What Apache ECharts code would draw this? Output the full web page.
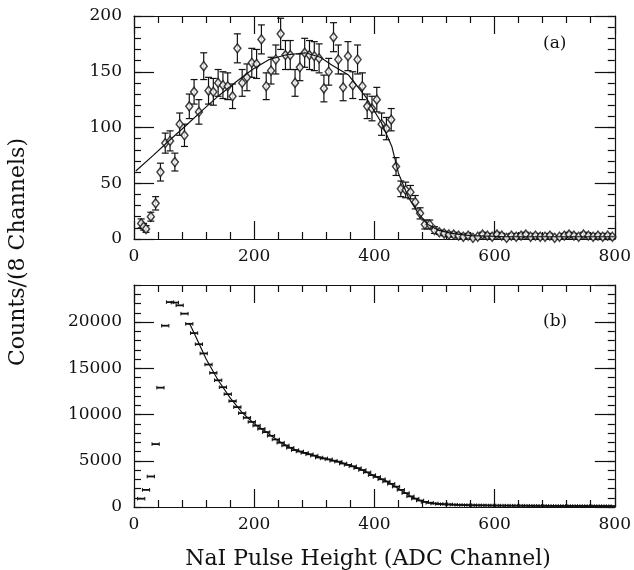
<!DOCTYPE html>
<html>
<head>
<meta charset="utf-8">
<script src="https://cdn.jsdelivr.net/npm/echarts@6/dist/echarts.min.js"></script>
<style>
  html, body { margin: 0; padding: 0; background: #fff; }
  #chart { width: 634px; height: 570px; }
</style>
</head>
<body>
<div id="chart"></div>
<script>
// panel (a): counts per 8 channels with error bars
const aX = [12, 16, 20, 28, 36, 44, 52, 60, 68, 76, 84, 92, 100, 108, 116, 124, 132, 140, 148, 156,
  164, 172, 180, 188, 196, 204, 212, 220, 228, 236, 244, 252, 260, 268, 276, 284, 292, 300, 308, 316,
  324, 332, 340, 348, 356, 364, 372, 380, 388, 396, 404, 412, 420, 428, 436, 444, 452, 460, 468, 476,
  484, 492, 500, 508, 516, 524, 532, 540, 548, 556, 564, 572, 580, 588, 596, 604, 612, 620, 628, 636,
  644, 652, 660, 668, 676, 684, 692, 700, 708, 716, 724, 732, 740, 748, 756, 764, 772, 780, 788, 796];
const aY = [14, 11, 9, 20, 32, 60, 86, 88, 69, 103, 93, 119, 132, 114, 155, 133, 132, 140, 138, 137,
  128, 171, 140, 145, 158, 157, 179, 137, 151, 161, 184, 165, 165, 140, 154, 167, 165, 164, 162, 135,
  150, 181, 161, 136, 164, 138, 161, 137, 119, 117, 125, 103, 99, 107, 65, 45, 44, 42, 33, 23,
  13, 13, 8, 6, 5, 4, 4, 3, 2, 3, 1, 2, 4, 3, 2, 4, 3, 1, 3, 2,
  3, 4, 2, 3, 2, 2, 3, 1, 2, 3, 4, 3, 2, 4, 3, 2, 3, 2, 3, 2];
const aErr = [4, 3, 3, 4, 6, 8, 9, 9, 8, 10, 10, 11, 11, 11, 12, 12, 12, 12, 12, 12,
  11, 13, 12, 12, 13, 13, 13, 12, 12, 13, 14, 13, 13, 12, 12, 13, 13, 13, 13, 12,
  12, 13, 13, 12, 13, 12, 13, 12, 11, 11, 11, 10, 10, 10, 8, 7, 7, 6, 6, 5,
  4, 4, 3, 2, 2, 2, 2, 2, 1, 2, 1, 1, 2, 2, 1, 2, 2, 1, 2, 1,
  2, 2, 1, 2, 1, 1, 2, 1, 1, 2, 2, 2, 1, 2, 2, 1, 2, 1, 2, 1];
const aFitX = [3, 32, 60, 87, 115, 142, 170, 197, 225, 252, 285, 310, 329, 357, 385, 412, 429, 440,
  456, 473, 489, 506, 528, 560, 620, 700, 800];
const aFitY = [61, 75, 89, 102, 116, 129, 141, 152, 161, 165, 167, 163, 156, 147, 128, 104, 83, 59,
  38, 23, 13, 8, 5, 3, 2, 2, 2];

// panel (b): counts per 8 channels, bin markers
const bX = [12, 20, 28, 36, 44, 52, 60, 68, 76, 84, 92, 100, 108, 116, 124, 132, 140, 148, 156, 164,
  172, 180, 188, 196, 204, 212, 220, 228, 236, 244, 252, 260, 268, 276, 284, 292, 300, 308, 316, 324,
  332, 340, 348, 356, 364, 372, 380, 388, 396, 404, 412, 420, 428, 436, 444, 452, 460, 468, 476, 484,
  492, 500, 508, 516, 524, 532, 540, 548, 556, 564, 572, 580, 588, 596, 604, 612, 620, 628, 636, 644,
  652, 660, 668, 676, 684, 692, 700, 708, 716, 724, 732, 740, 748, 756, 764, 772, 780, 788, 796];
const bY = [900, 1850, 3300, 6800, 12900, 19600, 22150, 22100, 21800, 20900, 19800, 18800, 17600, 16600,
  15400, 14500, 13700, 12950, 12200, 11450, 10800, 10150, 9650, 9200, 8800, 8450, 8100, 7700, 7300,
  6950, 6650, 6400, 6150, 6000, 5850, 5700, 5550, 5350, 5250, 5150, 5000, 4900, 4700, 4550, 4400,
  4200, 4000, 3750, 3450, 3250, 3000, 2750, 2500, 2200, 1850, 1500, 1150, 900, 700, 550, 450, 380,
  330, 300, 280, 250, 230, 210, 200, 190, 180, 175, 170, 160, 155, 150, 150, 145, 140, 140, 135,
  130, 130, 125, 125, 120, 120, 115, 115, 110, 110, 110, 105, 105, 100, 100, 100, 95, 95];
const bFitX = [92, 100, 120, 140, 160, 180, 200, 220, 240, 260, 280, 300, 320, 340, 360, 380, 400,
  420, 440, 460, 480, 500, 520, 560, 600, 700, 800];
const bFitY = [19900, 18800, 16000, 13700, 11800, 10200, 9000, 8100, 7150, 6400, 5900, 5550, 5200,
  4900, 4500, 4000, 3350, 2800, 2000, 1150, 600, 380, 290, 200, 160, 120, 100];

const INK = '#111';
const FONT = 'DejaVu Serif';

const chart = echarts.init(document.getElementById('chart'));

function vErrorBar(params, api) {
  const x = api.value(0), y = api.value(1), e = api.value(2);
  const hi = api.coord([x, y + e]);
  const lo = api.coord([x, y - e]);
  const cw = 3.5;
  const st = { stroke: INK, lineWidth: 1.2 };
  return {
    type: 'group',
    children: [
      { type: 'line', shape: { x1: hi[0], y1: hi[1], x2: lo[0], y2: lo[1] }, style: st },
      { type: 'line', shape: { x1: hi[0] - cw, y1: hi[1], x2: hi[0] + cw, y2: hi[1] }, style: st },
      { type: 'line', shape: { x1: lo[0] - cw, y1: lo[1], x2: lo[0] + cw, y2: lo[1] }, style: st }
    ]
  };
}

const bHalf = 6; // half bin width in channels
function binMark(params, api) {
  const x = api.value(0), y = api.value(1);
  const l = api.coord([x - bHalf, y]);
  const r = api.coord([x + bHalf, y]);
  const st = { stroke: INK, lineWidth: 1.8 };
  return {
    type: 'group',
    children: [
      { type: 'line', shape: { x1: l[0], y1: l[1], x2: r[0], y2: r[1] }, style: st },
      { type: 'line', shape: { x1: l[0], y1: l[1] - 1.8, x2: l[0], y2: l[1] + 1.8 }, style: { stroke: INK, lineWidth: 1 } },
      { type: 'line', shape: { x1: r[0], y1: r[1] - 1.8, x2: r[0], y2: r[1] + 1.8 }, style: { stroke: INK, lineWidth: 1 } }
    ]
  };
}

const lineStyle = { color: INK, width: 1.2 };
const labelStyle = { color: INK, fontFamily: FONT, fontSize: 17, formatter: v => String(v) };

function xAx(grid, pos, labels) {
  return {
    gridIndex: grid, type: 'value', min: 0, max: 800, interval: 200, position: pos,
    axisLine: { onZero: false, lineStyle },
    axisTick: { inside: true, length: 18, lineStyle },
    minorTick: { show: true, splitNumber: 5, length: 7, lineStyle },
    splitLine: { show: false }, minorSplitLine: { show: false },
    axisLabel: Object.assign({ show: labels, margin: 9 }, labelStyle)
  };
}

function yAx(grid, pos, max, interval, labels, tickLen, showLine) {
  return {
    gridIndex: grid, type: 'value', min: 0, max: max, interval: interval, position: pos,
    axisLine: { show: showLine, onZero: false, lineStyle },
    axisTick: { inside: true, length: tickLen, lineStyle },
    splitLine: { show: false },
    axisLabel: Object.assign({ show: labels, margin: 12, showMaxLabel: labels && max % interval === 0 }, labelStyle)
  };
}

const aPts = aX.map((x, i) => [x, aY[i], aErr[i]]);
const bPts = bX.map((x, i) => [x, bY[i]]);

chart.setOption({
  backgroundColor: '#fff',
  animation: false,
  grid: [
    { left: 134, right: 16, top: 16, height: 223 },
    { left: 134, right: 16, top: 285, height: 222 }
  ],
  xAxis: [xAx(0, 'bottom', true), xAx(0, 'top', false), xAx(1, 'bottom', true), xAx(1, 'top', false)],
  yAxis: [
    yAx(0, 'left', 200, 50, true, 20, true),
    yAx(0, 'right', 200, 50, false, 20, true),
    yAx(0, 'left', 200, 10, false, 7, false),
    yAx(0, 'right', 200, 10, false, 7, false),
    yAx(1, 'left', 24000, 5000, true, 20, true),
    yAx(1, 'right', 24000, 5000, false, 20, true),
    yAx(1, 'left', 24000, 1000, false, 7, false),
    yAx(1, 'right', 24000, 1000, false, 7, false)
  ],
  series: [
    {
      type: 'custom', xAxisIndex: 0, yAxisIndex: 0, clip: true,
      renderItem: vErrorBar, data: aPts, z: 2
    },
    {
      type: 'scatter', xAxisIndex: 0, yAxisIndex: 0, data: aPts,
      symbol: 'diamond', symbolSize: [7, 9],
      itemStyle: { color: '#fff', borderColor: INK, borderWidth: 1.5 }, z: 3
    },
    {
      type: 'line', xAxisIndex: 0, yAxisIndex: 0,
      data: aFitX.map((x, i) => [x, aFitY[i]]),
      symbol: 'none', lineStyle: { color: INK, width: 1.2 }, z: 4
    },
    {
      type: 'custom', xAxisIndex: 2, yAxisIndex: 4, clip: true,
      renderItem: binMark, data: bPts, z: 2
    },
    {
      type: 'line', xAxisIndex: 2, yAxisIndex: 4,
      data: bFitX.map((x, i) => [x, bFitY[i]]),
      symbol: 'none', lineStyle: { color: INK, width: 1.2 }, z: 4
    }
  ],
  graphic: [
    { type: 'text', left: 543, top: 35, style: { text: '(a)', font: '17px "DejaVu Serif"', fill: INK } },
    { type: 'text', left: 543, top: 313, style: { text: '(b)', font: '17px "DejaVu Serif"', fill: INK } },
    {
      type: 'text', x: 18, y: 252, rotation: Math.PI / 2,
      style: { text: 'Counts/(8 Channels)', font: '22px "DejaVu Serif"', fill: INK, align: 'center', verticalAlign: 'middle' }
    },
    {
      type: 'text', x: 368, y: 559,
      style: { text: 'NaI Pulse Height (ADC Channel)', font: '22px "DejaVu Serif"', fill: INK, align: 'center', verticalAlign: 'middle' }
    }
  ]
});
</script>
</body>
</html>
